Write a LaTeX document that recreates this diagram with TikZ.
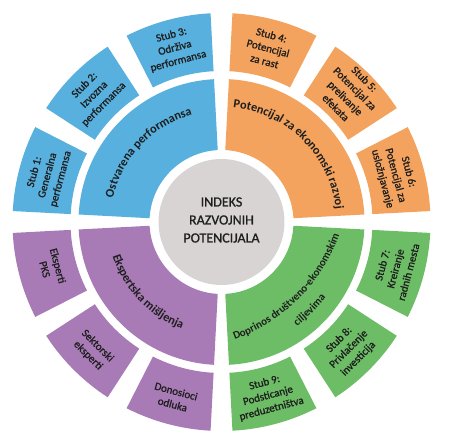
\documentclass[tikz,border=0pt]{standalone}
\usepackage{fontspec}
\setmainfont{Carlito}
\newfontfamily\lblfont{Carlito}[FakeBold=1.0]
\usetikzlibrary{decorations.text}
\definecolor{cblue}{HTML}{57B0DD}
\definecolor{corange}{HTML}{F3A35D}
\definecolor{cgreen}{HTML}{6CBD66}
\definecolor{cpurple}{HTML}{A87BB6}
\definecolor{cgray}{HTML}{D9D4D4}
\definecolor{txt}{HTML}{1E1E1E}
\newcommand\mysector[5]{%
  \fill[#1] (#2:#4pt) arc[start angle=#2, end angle=#3, radius=#4pt] -- (#3:#5pt) arc[start angle=#3, end angle=#2, radius=#5pt] -- cycle;}
\newcommand\midfont{\fontsize{12.3}{13}\selectfont\bfseries\color{txt}}
\newcommand\midsmall{\fontsize{11}{12}\selectfont\bfseries\color{txt}}
\begin{document}
\begin{tikzpicture}[x=1pt,y=1pt,
  outerlbl/.style={font=\lblfont\fontsize{11}{13.5}\selectfont, text=txt, align=center, inner sep=0pt},
  arclbl/.style={decorate, decoration={text along path, text align=center, text={|\midfont|#1}}},
  arcsmall/.style={decorate, decoration={text along path, text align=center, text={|\midsmall|#1}}}
]
\useasboundingbox (-221.5,-221) rectangle (228.5,222);
% middle ring
\mysector{cblue}{93}{177}{72}{143}
\mysector{corange}{3}{87}{72}{143}
\mysector{cgreen}{-87}{-3}{72}{143}
\mysector{cpurple}{183}{267}{72}{143}
% outer ring
\mysector{cblue}{153}{177}{151}{209}
\mysector{cblue}{123}{147}{151}{209}
\mysector{cblue}{93}{117}{151}{209}
\mysector{corange}{63}{87}{151}{209}
\mysector{corange}{33}{57}{151}{209}
\mysector{corange}{3}{27}{151}{209}
\mysector{cgreen}{-27}{-3}{151}{209}
\mysector{cgreen}{-57}{-33}{151}{209}
\mysector{cgreen}{-87}{-63}{151}{209}
\mysector{cpurple}{-117}{-93}{151}{209}
\mysector{cpurple}{-147}{-123}{151}{209}
\mysector{cpurple}{-177}{-153}{151}{209}
% center
\fill[cgray] (0,0) circle[radius=63pt];
\node[font=\lblfont\fontsize{14}{18}\selectfont, text=txt, align=center] (idx) at (0,2) {INDEKS\\RAZVOJNIH\\POTENCIJALA};
% middle labels
\path[arclbl={Ostvarena performansa}] (186.5:111pt) arc[start angle=186.5, end angle=86.5, radius=111pt];
\path[arclbl={Potencijal za ekonomski razvoj}] (100.2:115pt) arc[start angle=100.2, end angle=-9.8, radius=115pt];
\begin{scope}[shift={(135:67.6pt)}]
\path[arcsmall={Doprinos društveno-ekonomskim}] (-80:176.6pt) arc[start angle=-80, end angle=-10, radius=176.6pt];
\path[arcsmall={ciljevima}] (-80:196pt) arc[start angle=-80, end angle=-10, radius=196pt];
\end{scope}
\path[arclbl={Ekspertska mišljenja}] (173.5:114pt) arc[start angle=173.5, end angle=273.5, radius=114pt];
% outer labels
\node[outerlbl, rotate=75] (s1) at (165:180) {Stub 1:\\Generalna\\performansa};
\node[outerlbl, rotate=45] (s2) at (135:180) {Stub 2:\\Izvozna\\performansa};
\node[outerlbl, rotate=15] (s3) at (105:180) {Stub 3:\\Održiva\\performansa};
\node[outerlbl, rotate=-15] (s4) at (75:180) {Stub 4:\\Potencijal\\za rast};
\node[outerlbl, rotate=-45] (s5) at (45:182) {Stub 5:\\Potencijal za\\prelivanje\\efekata};
\node[outerlbl, rotate=-75] (s6) at (15:180) {Stub 6:\\Potencijal za\\usložnjavanje};
\node[outerlbl, rotate=75] (s7) at (-15:180) {Stub 7:\\Kreiranje\\radnih mesta};
\node[outerlbl, rotate=45] (s8) at (-45:180) {Stub 8:\\Privlačenje\\investicija};
\node[outerlbl, rotate=15] (s9) at (-75:180) {Stub 9:\\Podsticanje\\preduzetništva};
\node[outerlbl, rotate=-15] (e3) at (-105:182) {Donosioci\\odluka};
\node[outerlbl, rotate=-45] (e2) at (-135:182) {Sektorski\\eksperti};
\node[outerlbl, rotate=-75] (e1) at (-165:176) {Eksperti\\PKS};
\end{tikzpicture}
\end{document}
